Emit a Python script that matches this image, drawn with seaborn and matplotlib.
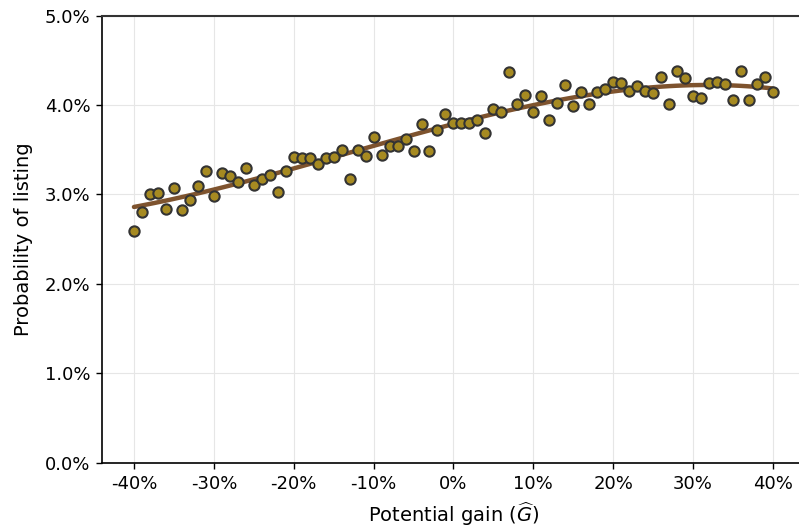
import numpy as np
import pandas as pd
import matplotlib
matplotlib.use("Agg")
import matplotlib.pyplot as plt
import seaborn as sns
from matplotlib.ticker import FuncFormatter

gain = list(range(-40, 41))
prob = [2.59, 2.80, 3.00, 3.02, 2.84, 3.07, 2.83, 2.94, 3.09, 3.26,
        2.98, 3.24, 3.21, 3.14, 3.30, 3.11, 3.17, 3.22, 3.03, 3.26,
        3.42, 3.41, 3.41, 3.34, 3.41, 3.42, 3.50, 3.17, 3.50, 3.43,
        3.64, 3.44, 3.54, 3.54, 3.62, 3.49, 3.79, 3.49, 3.72, 3.90,
        3.80, 3.80, 3.80, 3.83, 3.69, 3.96, 3.92, 4.37, 4.01, 4.11,
        3.92, 4.10, 3.83, 4.02, 4.22, 3.99, 4.15, 4.01, 4.15, 4.18,
        4.26, 4.24, 4.16, 4.21, 4.16, 4.13, 4.31, 4.01, 4.38, 4.30,
        4.10, 4.08, 4.24, 4.26, 4.23, 4.06, 4.38, 4.05, 4.23, 4.31,
        4.15]
df = pd.DataFrame({"gain": gain, "prob": prob})

sns.set_style("whitegrid", {"grid.color": "#E6E6E6"})
plt.rcParams['font.family'] = ['DejaVu Sans']
plt.rcParams['text.color'] = 'black'
plt.rcParams['axes.labelcolor'] = 'black'
plt.rcParams['xtick.color'] = 'black'
plt.rcParams['ytick.color'] = 'black'

fig = plt.figure(figsize=(7.99, 5.31), dpi=100)
ax = fig.add_axes([102/799, 0.1286, 702.9/799, 0.8422])

sns.regplot(data=df, x="gain", y="prob", order=3, ci=None, ax=ax,
            scatter_kws=dict(s=55, color="#A68A21", edgecolor="#333333",
                             linewidths=1.5, alpha=1, zorder=3),
            line_kws=dict(color="#7E532E", lw=3.2, zorder=2))

ax.set_xlim(-44, 44)
ax.set_ylim(0, 5)
ax.set_xticks(range(-40, 41, 10))
ax.set_yticks([0, 1, 2, 3, 4, 5])
ax.xaxis.set_major_formatter(FuncFormatter(lambda v, p: f"{v:.0f}%"))
ax.yaxis.set_major_formatter(FuncFormatter(lambda v, p: f"{v:.1f}%"))
ax.tick_params(axis="both", labelsize=13, length=4.5, width=1, color="black",
               labelcolor="black", direction="out", bottom=True, left=True,
               pad=4)
for s in ["left", "bottom"]:
    ax.spines[s].set_color("black")
    ax.spines[s].set_linewidth(1.2)
ax.spines["top"].set_color("#333333")
ax.spines["top"].set_linewidth(1.5)
ax.spines["right"].set_visible(False)
ax.set_xlabel(r"Potential gain ($\widehat{G}$)", fontsize=14, labelpad=6,
              color="black")
ax.set_ylabel("Probability of listing", fontsize=14, labelpad=8,
              color="black")

fig.savefig("out.png", dpi=100)
